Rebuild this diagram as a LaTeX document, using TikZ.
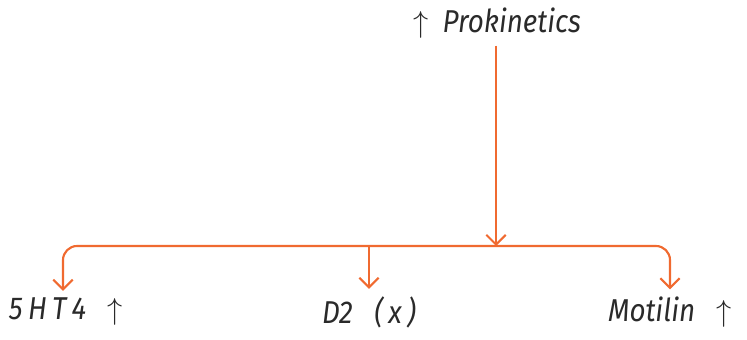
\documentclass[tikz,border=0pt]{standalone}
\usepackage{fontspec}
\setmainfont{Fira Sans}
\usepackage{xcolor}
\usepackage{tikz}
\usetikzlibrary{arrows.meta, positioning}

\definecolor{flowline}{HTML}{F06A30}
\definecolor{inktext}{HTML}{2A2A2A}

\begin{document}
\begin{tikzpicture}[
    x=0.02cm, y=-0.02cm,
    tag/.style={inner sep=4pt, text=inktext, font=\fontsize{18}{21}\selectfont\itshape\addfontfeature{FakeStretch=0.88}},
    arrow/.style={flowline, line width=1.2pt, -{Straight Barb[length=5.5pt, width=11pt, line width=1.2pt]}}
]
    \useasboundingbox (0,0) rectangle (747,340);

    % Nodes
    \node (prok) [tag] at (497,23) {$\uparrow$\ \ Prokinetics};
    \node (ht) [tag] at (66,312) {5\,H\,T\,4\ \ \ $\uparrow$};
    \node (dtwo) [tag] at (369,312) {D2\ \ \ (\,x\,)};
    \node (motilin) [tag] at (670,312) {Motilin\ \ \ $\uparrow$};

    % Junction on the bar
    \coordinate (split) at (496,246);

    % Arrows
    \draw [arrow] (prok.south -| split) -- (split);
    \draw [arrow, rounded corners=8] (split) -| ([xshift=-0.06cm]ht.north);
    \draw [arrow, rounded corners=8] (split) -| (motilin.north);
    \draw [arrow] (dtwo.north |- split) -- (dtwo.north);

\end{tikzpicture}
\end{document}
